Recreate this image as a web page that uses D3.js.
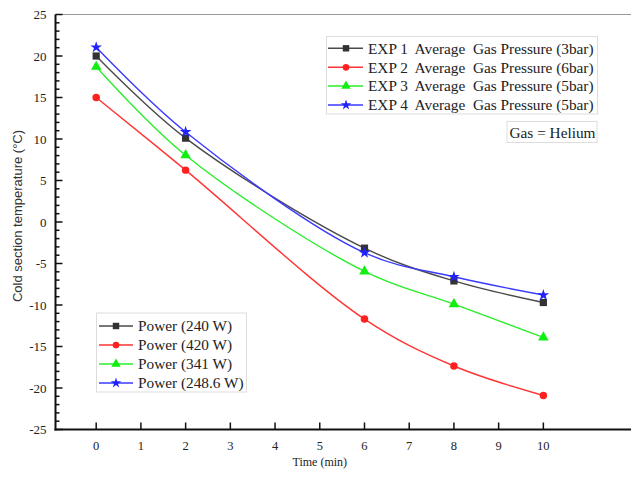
<!DOCTYPE html>
<html>
<head>
<meta charset="utf-8">
<script src="https://cdn.jsdelivr.net/npm/d3@7"></script>
<style>
  body { margin: 0; background: #fff; }
  svg text { font-family: "Liberation Serif", "Times New Roman", serif; fill: #222; }
  svg text.ytitle { font-family: "Liberation Sans", Arial, sans-serif; fill: #333; }
</style>
</head>
<body>
<svg id="chart" width="631" height="477"></svg>
<script>
var times = [0, 2, 6, 8, 10];
var exp1 = [20, 10.1, -3.15, -7.1, -9.7];
var exp2 = [15, 6.25, -11.7, -17.35, -20.9];
var exp3 = [18.7, 8.05, -5.95, -9.9, -13.9];
var exp4 = [21.05, 10.85, -3.7, -6.6, -8.8];
var names = ["EXP 1  Average  Gas Pressure (3bar)", "EXP 2  Average  Gas Pressure (6bar)",
  "EXP 3  Average  Gas Pressure (5bar)", "EXP 4  Average  Gas Pressure (5bar)"];
var powers = ["Power (240 W)", "Power (420 W)", "Power (341 W)", "Power (248.6 W)"];
var xTicks = [0, 1, 2, 3, 4, 5, 6, 7, 8, 9, 10];
var yTicks = [-25, -20, -15, -10, -5, 0, 5, 10, 15, 20, 25];

var colors = ["#4a4a4a", "#ff3535", "#2aee2a", "#3a3aff"];
var markColors = ["#333", "#ff2020", "#11ee11", "#2222ff"];
var shapes = [d3.symbolSquare, d3.symbolCircle, d3.symbolTriangle, d3.symbolStar];
var sizes = [52, 44, 48, 42];

var series = [exp1, exp2, exp3, exp4].map(function(vals, i) {
  return vals.map(function(v, j) { return { x: times[j], y: v }; });
});

var svg = d3.select("#chart");
var pLeft = 55.5, pRight = 631, pTop = 14.5, pBottom = 429.5;

var xScale = d3.scaleLinear().domain([-0.91, 11.96]).range([pLeft, pRight]);
var yScale = d3.scaleLinear().domain([-25, 25]).range([pBottom, pTop]);

// top frame line
svg.append("line").
  attr("x1", pLeft).attr("x2", pRight).
  attr("y1", pTop).attr("y2", pTop).
  attr("stroke", "#999").attr("stroke-width", 1);

// y axis (ticks inside)
var yMinor = d3.range(-25, 26, 1).filter(function(v) { return v % 5 !== 0; });
var gY = svg.append("g").attr("transform", "translate(" + pLeft + ",0)");
gY.selectAll(".minor").data(yMinor).enter().append("line").
  attr("x1", 0).attr("x2", 4).
  attr("y1", function(d) { return yScale(d); }).attr("y2", function(d) { return yScale(d); }).
  attr("stroke", "#111").attr("stroke-width", 1.5);
gY.selectAll(".major").data(yTicks).enter().append("line").
  attr("x1", 0).attr("x2", 7).
  attr("y1", function(d) { return yScale(d); }).attr("y2", function(d) { return yScale(d); }).
  attr("stroke", "#111").attr("stroke-width", 1.5);
gY.selectAll("text").data(yTicks).enter().append("text").
  attr("x", -9).attr("y", function(d) { return yScale(d); }).
  attr("dy", "0.35em").attr("text-anchor", "end").
  attr("font-size", 13).
  text(function(d) { return d; });
gY.append("line").attr("x1", 0).attr("x2", 0).attr("y1", pTop).attr("y2", pBottom + 1).
  attr("stroke", "#111").attr("stroke-width", 2);

// x axis (ticks inside)
var gX = svg.append("g").attr("transform", "translate(0," + pBottom + ")");
gX.selectAll(".major").data(xTicks).enter().append("line").
  attr("x1", function(d) { return xScale(d); }).attr("x2", function(d) { return xScale(d); }).
  attr("y1", 0).attr("y2", -7).
  attr("stroke", "#111").attr("stroke-width", 1.5);
gX.selectAll("text").data(xTicks).enter().append("text").
  attr("x", function(d) { return xScale(d); }).attr("y", 20).
  attr("text-anchor", "middle").attr("font-size", 12.5).
  text(function(d) { return d; });
gX.append("line").attr("x1", pLeft - 1).attr("x2", pRight).attr("y1", 0).attr("y2", 0).
  attr("stroke", "#111").attr("stroke-width", 2);

// axis titles
svg.append("text").
  attr("x", xScale(5)).attr("y", 466).
  attr("text-anchor", "middle").attr("font-size", 12).
  text("Time (min)");
svg.append("text").attr("class", "ytitle").
  attr("transform", "translate(22,216) rotate(-90)").
  attr("text-anchor", "middle").attr("font-size", 13).
  text("Cold section temperature (°C)");

// lines
var line = d3.line().
  x(function(d) { return xScale(d.x); }).
  y(function(d) { return yScale(d.y); }).
  curve(d3.curveCatmullRom.alpha(0.5));

series.forEach(function(ds, i) {
  svg.append("path").datum(ds).
    attr("fill", "none").attr("stroke", colors[i]).
    attr("stroke-width", 1.4).attr("d", line);
});
series.forEach(function(ds, i) {
  svg.selectAll(".m" + i).data(ds).enter().append("path").
    attr("transform", function(d) { return "translate(" + xScale(d.x) + "," + yScale(d.y) + ")"; }).
    attr("d", d3.symbol().type(shapes[i]).size(sizes[i])).
    attr("fill", markColors[i]);
});

// legends
function legend(x, y, w, h, rowY, lineX, markX, textX, labels) {
  svg.append("rect").attr("x", x).attr("y", y).attr("width", w).attr("height", h).
    attr("fill", "#fff").attr("stroke", "#ddd").attr("stroke-width", 1);
  labels.forEach(function(lab, i) {
    var yy = y + rowY[i];
    svg.append("line").attr("x1", lineX[0]).attr("x2", lineX[1]).
      attr("y1", yy).attr("y2", yy).attr("stroke", colors[i]).attr("stroke-width", 1.4);
    svg.append("path").attr("transform", "translate(" + markX + "," + yy + ")").
      attr("d", d3.symbol().type(shapes[i]).size(sizes[i] * 0.8)).
      attr("fill", markColors[i]);
    svg.append("text").attr("x", textX).attr("y", yy).attr("dy", "0.35em").
      attr("font-size", 15.3).attr("xml:space", "preserve").style("white-space", "pre").
      text(lab);
  });
}
legend(326.5, 36.5, 271, 77.5, [11.8, 30.8, 49.5, 68.5], [328, 363], 346, 368, names);
legend(96.5, 313, 150, 79, [13, 32, 51, 70], [99, 133], 116, 138, powers);

// Gas note
svg.append("rect").attr("x", 507).attr("y", 121.5).attr("width", 90).attr("height", 21).
  attr("fill", "#fff").attr("stroke", "#ddd");
svg.append("text").attr("x", 552.5).attr("y", 132.5).attr("dy", "0.35em").
  attr("text-anchor", "middle").attr("font-size", 15.3).
  text("Gas = Helium");
</script>
</body>
</html>
